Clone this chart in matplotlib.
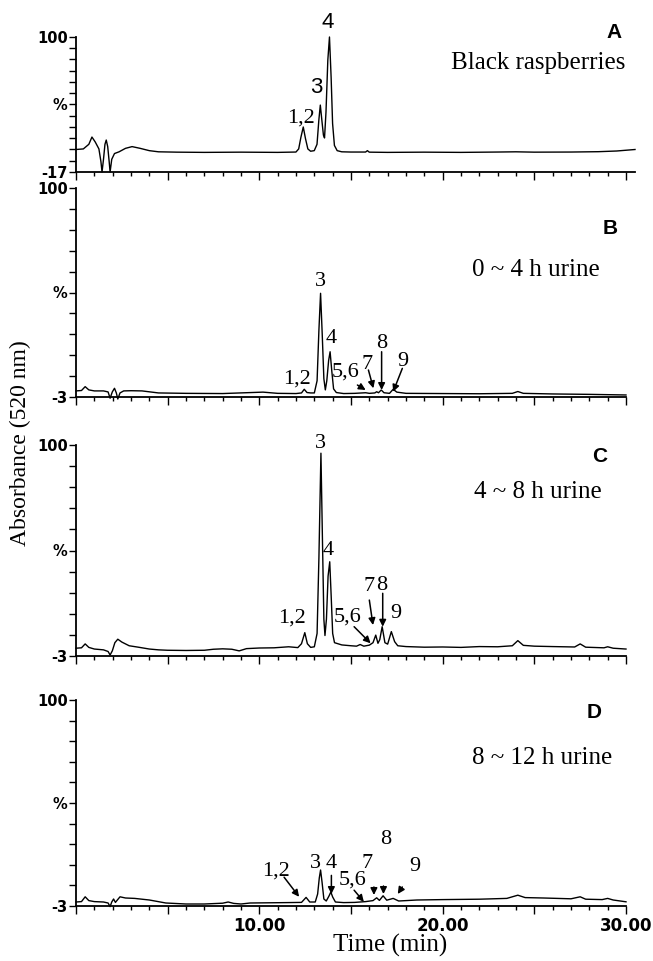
import matplotlib
matplotlib.use('Agg')
import matplotlib.pyplot as plt
from matplotlib.ticker import MultipleLocator
import numpy as np

# chromatogram traces: (time in min, % absorbance)
trace_a = [(0.0, 2.5), (0.4, 3.0), (0.7, 7.0), (0.87, 13.3), (1.05, 9.0), (1.25, 3.0),
           (1.36, -8.0), (1.42, -17.0), (1.5, -6.0), (1.58, 7.0), (1.65, 10.7), (1.73, 5.0),
           (1.81, -8.0), (1.86, -17.0), (1.95, -6.0), (2.1, -1.0), (2.35, 0.5), (2.7, 3.5),
           (3.06, 5.0), (3.5, 3.5), (4.0, 1.5), (4.5, 0.5), (5.5, 0.2), (7.0, 0.0), (9.0, 0.2),
           (11.0, 0.0), (12.0, 0.3), (12.15, 3.0), (12.27, 13.0), (12.4, 22.0), (12.52, 12.0),
           (12.65, 3.0), (12.8, 1.0), (13.0, 1.5), (13.15, 7.0), (13.25, 28.0), (13.33, 41.0),
           (13.42, 27.0), (13.5, 15.0), (13.56, 12.5), (13.64, 35.0), (13.74, 80.0),
           (13.83, 100.0), (13.92, 65.0), (14.0, 25.0), (14.1, 6.0), (14.25, 1.5), (14.5, 0.5),
           (15.0, 0.3), (15.8, 0.3), (15.9, 1.5), (16.0, 0.2), (17.0, 0.0), (19.0, 0.2),
           (21.0, 0.0), (23.0, 0.3), (24.0, 0.5), (25.0, 0.2), (27.0, 0.3), (28.5, 0.6),
           (29.5, 1.2), (30.5, 2.5)]

trace_b = [(0.0, 0.0), (0.3, 0.2), (0.5, 2.1), (0.7, 0.5), (1.0, 0.0), (1.5, 0.0),
           (1.75, -0.5), (1.86, -3.6), (1.98, -0.5), (2.1, 1.3), (2.2, -1.0), (2.28, -4.0),
           (2.4, -1.0), (2.6, 0.0), (3.0, 0.1), (3.6, 0.0), (4.5, -1.0), (6.0, -1.2),
           (8.0, -1.3), (10.2, -0.6), (11.0, -1.2), (12.0, -1.3), (12.3, -1.0), (12.45, 0.8),
           (12.6, -0.8), (12.8, -1.0), (13.0, -1.0), (13.15, 5.0), (13.25, 30.0), (13.34, 48.1),
           (13.43, 28.0), (13.52, 6.0), (13.6, 0.5), (13.68, 5.0), (13.78, 15.0), (13.86, 19.3),
           (13.95, 10.0), (14.05, 1.0), (14.2, -0.8), (14.6, -1.3), (15.2, -1.2), (15.6, -1.0),
           (15.8, -0.9), (16.0, -1.2), (16.3, -1.0), (16.4, -0.4), (16.5, -0.9), (16.65, 0.45),
           (16.8, -0.9), (17.1, -1.2), (17.3, 0.8), (17.5, -0.6), (18.0, -1.2), (20.0, -1.3),
           (22.0, -1.4), (23.8, -1.2), (24.1, -0.3), (24.4, -1.2), (26.0, -1.5), (28.0, -1.7),
           (30.0, -2.0)]

trace_c = [(0.0, 0.8), (0.3, 1.0), (0.5, 2.9), (0.7, 1.2), (1.0, 0.4), (1.5, 0.0),
           (1.75, -0.8), (1.86, -2.5), (1.98, -0.5), (2.12, 3.5), (2.28, 5.2), (2.5, 3.8),
           (2.9, 2.0), (3.4, 1.3), (4.0, 0.4), (4.5, 0.0), (5.0, -0.2), (6.0, -0.3), (7.0, -0.2),
           (7.5, 0.3), (8.0, 0.5), (8.5, 0.3), (8.9, -0.5), (9.3, 0.6), (10.0, 0.9), (10.8, 1.0),
           (11.6, 1.5), (12.1, 1.1), (12.3, 3.0), (12.48, 8.4), (12.62, 3.0), (12.8, 1.2),
           (13.0, 1.5), (13.15, 8.0), (13.25, 45.0), (13.36, 96.0), (13.45, 50.0), (13.52, 15.0),
           (13.58, 7.0), (13.66, 15.0), (13.75, 36.0), (13.84, 43.0), (13.92, 26.0), (14.0, 8.0),
           (14.1, 3.5), (14.5, 2.4), (15.0, 2.0), (15.3, 1.8), (15.5, 2.6), (15.7, 1.8),
           (16.0, 2.3), (16.2, 3.5), (16.35, 7.2), (16.47, 3.2), (16.57, 5.0), (16.7, 11.3),
           (16.85, 3.5), (17.0, 2.8), (17.2, 8.9), (17.38, 4.0), (17.55, 2.0), (18.0, 1.6),
           (19.0, 1.3), (20.0, 1.4), (21.0, 1.2), (22.0, 1.6), (23.0, 1.5), (23.8, 2.0),
           (24.1, 4.5), (24.4, 2.2), (25.0, 1.8), (26.0, 1.6), (27.2, 1.4), (27.5, 2.9),
           (27.8, 1.3), (28.8, 1.0), (29.0, 1.5), (29.3, 0.8), (30.0, 0.4)]

trace_d = [(0.0, -1.0), (0.3, -0.8), (0.5, 1.6), (0.7, -0.3), (1.0, -0.8), (1.5, -1.0),
           (1.75, -1.5), (1.86, -3.3), (1.95, -1.0), (2.05, 0.5), (2.15, -1.2), (2.4, 1.6),
           (2.7, 1.0), (3.2, 0.8), (4.0, 0.0), (4.9, -1.5), (6.0, -2.0), (7.0, -2.0),
           (8.0, -1.6), (8.3, -1.0), (8.6, -1.7), (9.0, -2.0), (9.5, -1.5), (10.5, -1.4),
           (11.5, -1.3), (12.3, -1.2), (12.55, 1.3), (12.75, -1.0), (13.05, -1.0), (13.18, 3.0),
           (13.27, 11.0), (13.34, 15.0), (13.42, 9.0), (13.52, 0.5), (13.65, -0.5), (13.8, 2.0),
           (13.9, 4.0), (14.0, 1.5), (14.15, -1.0), (14.6, -1.3), (15.2, -1.2), (15.8, -0.8),
           (16.2, -0.3), (16.4, 1.1), (16.55, -0.2), (16.75, 2.1), (16.95, -0.1), (17.3, 0.8),
           (17.6, -0.5), (18.6, 0.0), (20.0, 0.2), (22.0, 0.4), (23.5, 0.8), (24.1, 2.4),
           (24.5, 1.2), (25.5, 1.0), (27.0, 0.6), (27.5, 1.6), (27.8, 0.4), (28.7, 0.2),
           (29.0, 0.8), (29.3, 0.0), (30.0, -0.9)]

# peak labels: (text, time, value)
labels_a = [('1,2', 12.25, 29.5), ('3', 13.12, 56.0), ('4', 13.75, 113.0)]
labels_b = [('1,2', 12.07, 6.0), ('3', 13.34, 53.8), ('4', 13.9, 26.0), ('5,6', 14.7, 9.5),
            ('7', 15.85, 13.0), ('8', 16.67, 23.4), ('9', 17.85, 14.4)]
labels_c = [('1,2', 11.8, 15.4), ('3', 13.35, 100.8), ('4', 13.76, 48.7), ('5,6', 14.8, 16.2),
            ('7', 16.0, 30.8), ('8', 16.66, 31.6), ('9', 17.45, 17.8)]
labels_d = [('1,2', 10.9, 14.7), ('3', 13.07, 18.2), ('4', 13.9, 18.2), ('5,6', 15.08, 9.8),
            ('7', 15.85, 18.2), ('8', 16.9, 30.5), ('9', 18.5, 16.7)]

# arrows: (from time, from value, to time, to value)
arrows_b = [(15.35, 2.9, 15.8, 0.45), (15.95, 10.3, 16.22, 1.3),
            (16.67, 19.3, 16.67, 0.45), (17.8, 11.1, 17.3, -0.4)]
arrows_c = [(15.17, 11.3, 16.07, 3.2), (16.0, 24.3, 16.2, 12.1), (16.73, 27.6, 16.73, 11.3)]
arrows_d = [(11.35, 11.4, 12.17, 1.6), (13.93, 12.3, 13.93, 3.0), (15.17, 4.9, 15.7, -0.9),
            (16.25, 6.5, 16.25, 2.5), (16.77, 7.0, 16.77, 3.0), (17.8, 6.5, 17.55, 3.0)]

panel_letters = ['A', 'B', 'C', 'D']
sample_names = ['Black raspberries', '0 ~ 4 h urine', '4 ~ 8 h urine', '8 ~ 12 h urine']
x_tick_labels = ['', '', '10.00', '', '20.00', '', '30.00']

W, H = 653, 961
fig = plt.figure(figsize=(W / 100, H / 100), dpi=100)

SERIF = 'Liberation Serif'
TICKFONT = dict(family='DejaVu Sans', weight='bold')

# pixel boxes: left, top, right, bottom
boxes = [(76, 37, 635, 172), (76, 188, 626, 397), (76, 445, 626, 656), (76, 700, 626, 906)]
xmaxes = [30.5, 30, 30, 30]
ymins = [-17, -3, -3, -3]
traces = [trace_a, trace_b, trace_c, trace_d]
all_labels = [labels_a, labels_b, labels_c, labels_d]
all_arrows = [[], arrows_b, arrows_c, arrows_d]

# panel letter and sample text positions (px)
letter_pos = [(614, 32), (610, 228), (600, 457), (594, 713)]
name_pos = [(625, 63), (600, 270), (602, 492), (612, 758)]

for i in range(4):
    l, t, r, b = boxes[i]
    ax = fig.add_axes([l / W, 1 - b / H, (r - l) / W, (b - t) / H])
    tt = [p[0] for p in traces[i]]
    vv = [p[1] for p in traces[i]]
    ax.plot(tt, vv, color='k', lw=1.0, clip_on=False)
    ax.set_xlim(0, xmaxes[i])
    ax.set_ylim(ymins[i], 100)

    for s in ['top', 'right']:
        ax.spines[s].set_visible(False)
    for s in ['left', 'bottom']:
        ax.spines[s].set_linewidth(1.3)

    n = 12 if i == 0 else 10
    yt = np.linspace(ymins[i], 100, n + 1)
    ylab = [''] * (n + 1)
    ylab[0] = str(ymins[i])
    ylab[n // 2] = '%'
    ylab[-1] = '100'
    ax.set_yticks(yt)
    ax.set_yticklabels(ylab, fontsize=10.5, **TICKFONT)
    ax.tick_params(axis='y', length=5, width=1, pad=1)

    ax.set_xticks(np.arange(0, 31, 5))
    ax.xaxis.set_minor_locator(MultipleLocator(1))
    if i == 3:
        ax.set_xticklabels(x_tick_labels, fontsize=12, **TICKFONT)
    else:
        ax.set_xticklabels([''] * 7)
    ax.tick_params(axis='x', which='major', length=6, width=1, pad=2)
    ax.tick_params(axis='x', which='minor', length=3, width=1)

    for txt, x, y in all_labels[i]:
        if i == 0 and txt in ('3', '4'):
            ax.text(x, y, txt, ha='center', va='center', fontsize=16, family='Liberation Sans')
        else:
            ax.text(x, y, txt, ha='center', va='center', fontsize=16, family=SERIF)
    for x0, y0, x1, y1 in all_arrows[i]:
        ax.annotate('', xy=(x1, y1), xytext=(x0, y0), annotation_clip=False,
                    arrowprops=dict(arrowstyle='-|>', color='k', lw=1.1,
                                    mutation_scale=10, shrinkA=0, shrinkB=0))

    lx, ly = letter_pos[i]
    fig.text(lx / W, 1 - ly / H, panel_letters[i], ha='center', va='center',
             fontsize=15, family='Liberation Sans', weight='bold')
    nx, ny = name_pos[i]
    fig.text(nx / W, 1 - ny / H, sample_names[i], ha='right', va='center',
             fontsize=18, family=SERIF)

fig.text(20 / W, 1 - 443 / H, 'Absorbance (520 nm)', rotation=90, ha='center',
         va='center', fontsize=17, family=SERIF)
fig.text(390 / W, 1 - 945 / H, 'Time (min)', ha='center', va='center',
         fontsize=18, family=SERIF)

fig.savefig('out.png', dpi=100)
